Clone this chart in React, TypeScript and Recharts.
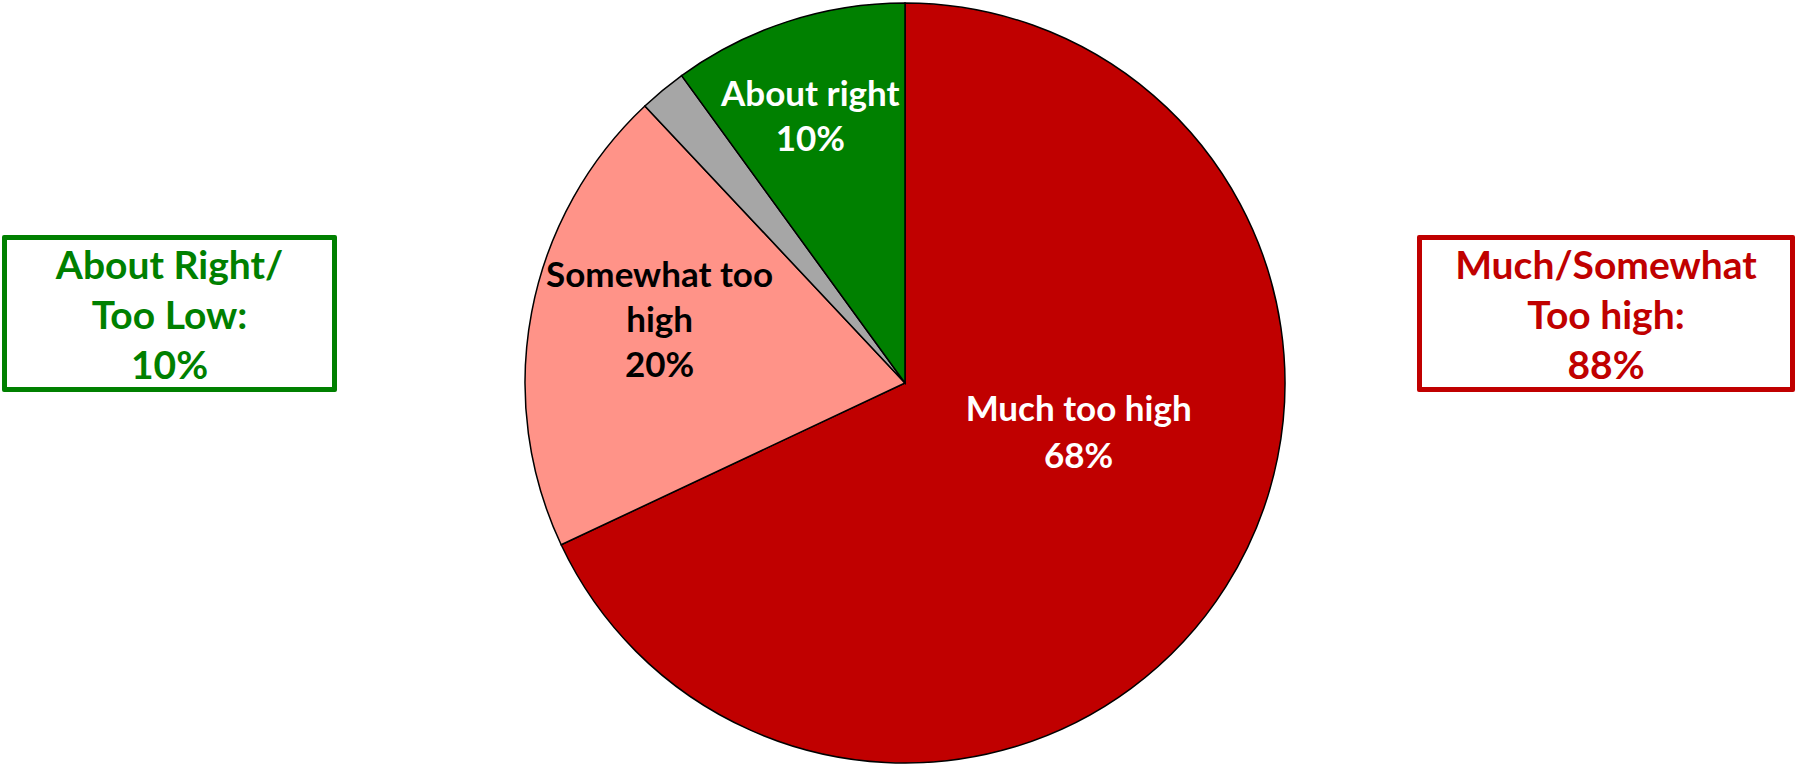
import React from "react";
import { PieChart, Pie, Cell } from "recharts";

const categories = ["Much too high", "Somewhat too high", "Don't know", "About right"];
const values = [68, 20, 2, 10];
const labelLines = [["Much too high", "68%"], ["Somewhat too", "high", "20%"], [], ["About right", "10%"]];
const colors = ["#C00000", "#FF9388", "#A6A6A6", "#008000"];
const labelColors = ["#FFFFFF", "#000000", "#000000", "#FFFFFF"];
const summaryLeft = ["About Right/", "Too Low:", "10%"];
const summaryRight = ["Much/Somewhat", "Too high:", "88%"];

const data = categories.map((name, i) => ({ name, value: values[i] }));

// label placement: angle shift (deg, clockwise) from slice mid and radius fraction
const labelLayout: Record<string, { shift: number; r: number }> = {
  "Much too high": { shift: -17, r: 0.474 },
  "Somewhat too high": { shift: 4, r: 0.668 },
  "About right": { shift: -1.4, r: 0.75 },
};

const FONT = "Lato, 'Open Sans', sans-serif";
const RAD = Math.PI / 180;

function renderLabel(props: any) {
  const { cx, cy, midAngle, outerRadius, index, name } = props;
  const lines = labelLines[index];
  if (!lines || lines.length === 0) return null;
  const lay = labelLayout[name] || { shift: 0, r: 0.6 };
  const ang = midAngle - lay.shift;
  const r = outerRadius * lay.r;
  const x = cx + r * Math.cos(-ang * RAD);
  const y = cy + r * Math.sin(-ang * RAD);
  const spacing = lines.length === 2 && index === 0 ? 47 : 45;
  const startY = y - ((lines.length - 1) * spacing) / 2;
  return (
    <text
      key={`lbl-${index}`}
      x={x}
      y={startY}
      textAnchor="middle"
      dominantBaseline="central"
      fill={labelColors[index]}
      fontFamily={FONT}
      fontWeight={700}
      fontSize={35}
    >
      {lines.map((l, i) => (
        <tspan key={i} x={x} y={startY + i * spacing} dominantBaseline="central">
          {l}
        </tspan>
      ))}
    </text>
  );
}

function SummaryBox({ lines, color, left, width }: { lines: string[]; color: string; left: number; width: number }) {
  return (
    <div
      style={{
        position: "absolute",
        left,
        top: 235,
        width,
        height: 157,
        boxSizing: "border-box",
        border: `5px solid ${color}`,
        borderRadius: 2,
        color,
        fontFamily: FONT,
        fontWeight: 700,
        fontSize: 39,
        lineHeight: "50px",
        textAlign: "center",
        display: "flex",
        flexDirection: "column",
        justifyContent: "center",
        background: "#fff",
      }}
    >
      {lines.map((l, i) => (
        <div key={i} style={{ whiteSpace: "nowrap" }}>{l}</div>
      ))}
    </div>
  );
}

export default function App() {
  return (
    <div style={{ position: "absolute", left: 0, top: 0, width: 1800, height: 765, background: "#fff" }}>
      <PieChart width={1800} height={765} margin={{ top: 0, right: 0, bottom: 0, left: 0 }}>
        <Pie
          data={data}
          dataKey="value"
          nameKey="name"
          cx={905}
          cy={383}
          outerRadius={380}
          startAngle={90}
          endAngle={-270}
          stroke="#000"
          strokeWidth={1.5}
          isAnimationActive={false}
          label={renderLabel}
          labelLine={false}
        >
          {data.map((d, i) => (
            <Cell key={d.name} fill={colors[i]} />
          ))}
        </Pie>
      </PieChart>
      <SummaryBox lines={summaryLeft} color="#008000" left={2} width={335} />
      <SummaryBox lines={summaryRight} color="#C00000" left={1417} width={378} />
    </div>
  );
}
